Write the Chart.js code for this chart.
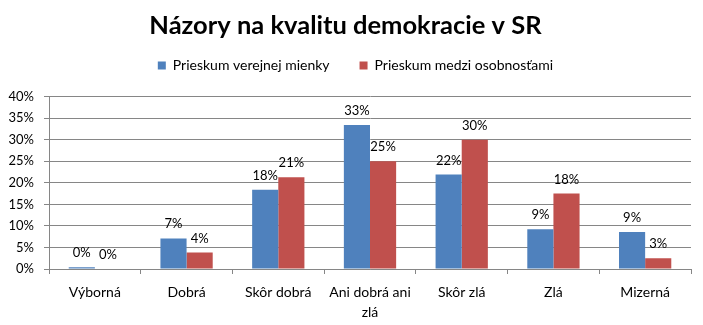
<!DOCTYPE html>
<html>
<head>
    <meta charset="utf-8" />
    <title>Názory na kvalitu demokracie v SR</title>
    <script src="https://cdn.jsdelivr.net/npm/chart.js@4.4.0/dist/chart.umd.min.js"></script>
    <style>
        body { margin: 0; background: #fff; }
        #wrap { width: 703px; height: 325px; }
    </style>
</head>
<body>
    <div id="wrap">
        <canvas id="myChart" width="703" height="325"></canvas>
    </div>

    <script>
        // data (percent)
        var categories = ['Výborná', 'Dobrá', 'Skôr dobrá', ['Ani dobrá ani', 'zlá'], 'Skôr zlá', 'Zlá', 'Mizerná'];
        var verejnost = [0.4, 7.1, 18.4, 33.4, 21.9, 9.2, 8.6];
        var osobnosti = [0, 3.8, 21.3, 25.0, 30.0, 17.5, 2.5];
        var seriesNames = ['Prieskum verejnej mienky', 'Prieskum medzi osobnosťami'];
        var yTicks = [0, 5, 10, 15, 20, 25, 30, 35, 40];

        var fontName = 'Lato, "Open Sans", sans-serif';
        var gridColor = '#868686';

        // labels above each bar, like the excel data labels
        var barLabels = {
            id: 'barLabels',
            afterDatasetsDraw: function (chart) {
                var ctx = chart.ctx;
                ctx.save();
                ctx.font = '13px ' + fontName;
                ctx.fillStyle = '#000';
                ctx.textAlign = 'center';
                ctx.textBaseline = 'alphabetic';
                chart.data.datasets.forEach(function (ds, i) {
                    var meta = chart.getDatasetMeta(i);
                    meta.data.forEach(function (bar, j) {
                        ctx.fillText(Math.round(ds.data[j]) + '%', bar.x, bar.y - 10);
                    });
                });
                ctx.restore();
            }
        };

        // legend padding is 30 (wide gap between items) but drawn a bit higher
        // and a bit to the right, plus some extra room between legend and plot
        var legendSpace = {
            id: 'legendSpace',
            beforeInit: function (chart) {
                var fit = chart.legend.fit;
                var draw = chart.legend.draw;
                chart.legend.fit = function () {
                    fit.bind(chart.legend)();
                    this.height += 4;
                };
                chart.legend.draw = function () {
                    var t = this.top, l = this.left, r = this.right;
                    this.top = t - 10;
                    this.left = l + 10;
                    this.right = r + 10;
                    draw.apply(chart.legend, arguments);
                    this.top = t;
                    this.left = l;
                    this.right = r;
                };
            }
        };

        var ctx = document.getElementById('myChart').getContext('2d');
        var chart = new Chart(ctx, {
            type: 'bar',
            data: {
                labels: categories,
                datasets: [{
                    label: seriesNames[0],
                    backgroundColor: '#4F81BD',
                    data: verejnost
                }, {
                    label: seriesNames[1],
                    backgroundColor: '#C0504D',
                    data: osobnosti
                }]
            },
            options: {
                responsive: false,
                animation: false,
                layout: { padding: { left: 0, right: 12, top: 0, bottom: 0 } },
                datasets: {
                    bar: { barPercentage: 1, categoryPercentage: 0.57 }
                },
                plugins: {
                    title: {
                        display: true,
                        text: 'Názory na kvalitu demokracie v SR',
                        color: '#000',
                        font: { family: fontName, size: 25.5, weight: 'bold', lineHeight: 1 },
                        padding: { top: 13, bottom: 0 }
                    },
                    legend: {
                        labels: {
                            color: '#000',
                            boxWidth: 8,
                            boxHeight: 8,
                            padding: 30,
                            font: { family: fontName, size: 14 }
                        }
                    },
                    tooltip: { enabled: false }
                },
                scales: {
                    x: {
                        afterFit: function (scale) { scale.height = 56; },
                        grid: {
                            offset: true,
                            drawOnChartArea: false,
                            tickLength: 5,
                            color: gridColor
                        },
                        border: { color: gridColor },
                        ticks: {
                            color: '#000',
                            maxRotation: 0,
                            padding: 8,
                            font: { family: fontName, size: 14, lineHeight: 1.43 }
                        }
                    },
                    y: {
                        min: 0,
                        max: 40,
                        afterFit: function (scale) { scale.width = 49; },
                        afterBuildTicks: function (scale) {
                            scale.ticks = yTicks.map(function (v) { return { value: v }; });
                        },
                        grid: { color: gridColor, tickLength: 5 },
                        border: { color: gridColor },
                        ticks: {
                            color: '#000',
                            padding: 10,
                            font: { family: fontName, size: 13 },
                            callback: function (v) { return v + '%'; }
                        }
                    }
                }
            },
            plugins: [barLabels, legendSpace]
        });
    </script>
</body>
</html>
